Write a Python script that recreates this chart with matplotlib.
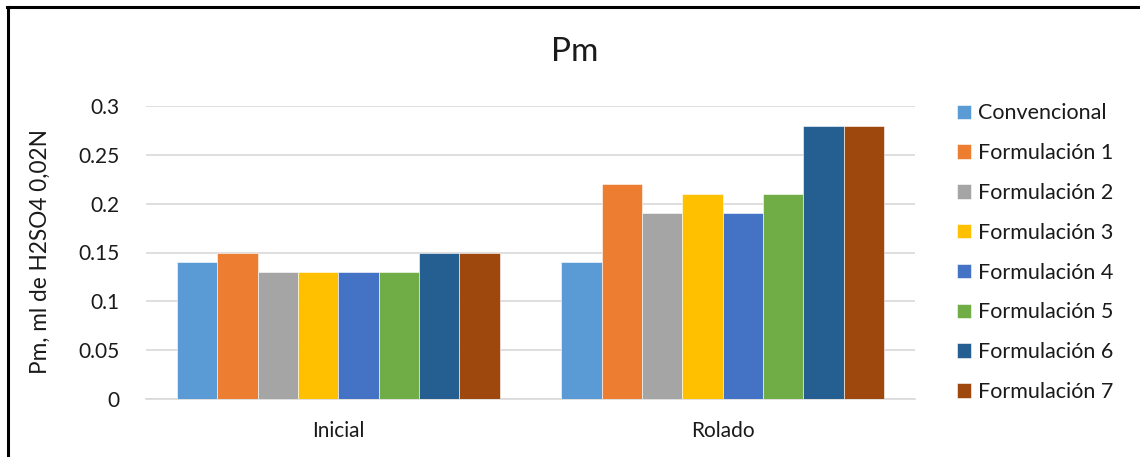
import numpy as np
import matplotlib
matplotlib.use('Agg')
import matplotlib.pyplot as plt
from matplotlib.lines import Line2D

plt.rcParams['font.family'] = ['Lato', 'DejaVu Sans']

# Data
categories = ['Inicial', 'Rolado']
series = ['Convencional', 'Formulación 1', 'Formulación 2', 'Formulación 3',
          'Formulación 4', 'Formulación 5', 'Formulación 6', 'Formulación 7']
inicial = [0.14, 0.15, 0.13, 0.13, 0.13, 0.13, 0.15, 0.15]
rolado = [0.14, 0.22, 0.19, 0.21, 0.19, 0.21, 0.28, 0.28]
colors = ['#5B9BD5', '#ED7D31', '#A5A5A5', '#FFC000',
          '#4472C4', '#70AD47', '#255E91', '#9E480E']
yticks = [0, 0.05, 0.1, 0.15, 0.2, 0.25, 0.3]
ytick_labels = ['0', '0.05', '0.1', '0.15', '0.2', '0.25', '0.3']

W, H = 1140, 457
fig = plt.figure(figsize=(W / 100, H / 100), dpi=100)
ax = fig.add_axes([146 / W, 1 - 399 / H, 769 / W, 293 / H])

text_color = '#1a1a1a'
grid_color = '#d9d9d9'

x = np.arange(len(categories))
n = len(series)
bw = 0.84 / n
for i, name in enumerate(series):
    vals = [inicial[i], rolado[i]]
    ax.bar(x - 0.42 + bw * (i + 0.5), vals, width=bw, color=colors[i],
           edgecolor='white', linewidth=0.4, label=name, zorder=3)

ax.set_xlim(-0.5, 1.5)
ax.set_ylim(0, 0.3)
ax.set_yticks(yticks)
ax.set_yticklabels(ytick_labels)
ax.set_xticks(x)
ax.set_xticklabels(categories)
ax.yaxis.grid(True, color=grid_color, linewidth=1.2, zorder=0)
for s in ['top', 'right', 'left']:
    ax.spines[s].set_visible(False)
ax.spines['bottom'].set_color(grid_color)
ax.spines['bottom'].set_linewidth(1.2)
ax.tick_params(axis='both', length=0, labelsize=15, colors=text_color)
ax.tick_params(axis='y', pad=19)
ax.tick_params(axis='x', pad=16)

fig.text(575 / W, 1 - 52 / H, 'Pm', fontsize=24, color=text_color,
         ha='center', va='center')
fig.text(40 / W, 1 - 252 / H, 'Pm, ml de H2SO4 0,02N', fontsize=16.3,
         color=text_color, rotation=90, ha='center', va='center')

fig.legend(loc='upper left', bbox_to_anchor=(938 / W, 1 - 84 / H),
           frameon=False, fontsize=15.5, handlelength=0.65, handleheight=0.65,
           handletextpad=0.3, labelspacing=0.92, labelcolor=text_color)

# chart frame
fig.add_artist(Line2D([7.5 / W, 7.5 / W], [0, 1 - 7 / H], color='black',
                      linewidth=2.2, transform=fig.transFigure))
fig.add_artist(Line2D([6.5 / W, 1], [1 - 7 / H, 1 - 7 / H], color='black',
                      linewidth=2.2, transform=fig.transFigure))

fig.savefig('out.png', dpi=100)
